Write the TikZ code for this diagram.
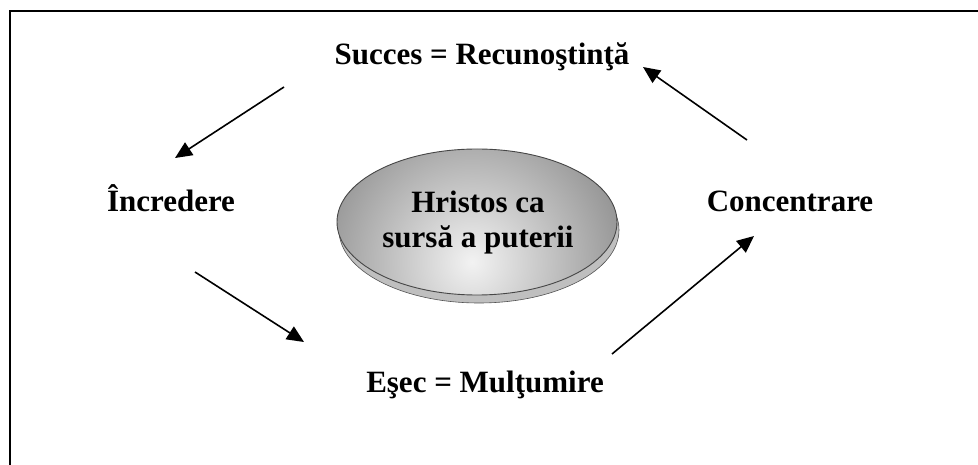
\documentclass[tikz,border=0pt]{standalone}
\usepackage{fontspec}
\setmainfont{Liberation Serif}
\usetikzlibrary{arrows.meta,shapes.geometric,shadings}
\begin{document}
\begin{tikzpicture}[x=1pt,y=-1pt,
  lbl/.style={font=\fontsize{31}{35}\selectfont\bfseries, inner sep=0pt, anchor=base},
  arr/.style={line width=1.6pt, -{Triangle[length=17pt,width=15pt]}}]
\useasboundingbox (0,0) rectangle (978,465);
% frame (left and top edges)
\draw[line width=1.6pt] (10,470) -- (10,11) -- (985,11);
% ellipse shadow/extrusion
\fill[gray!50] (479,230) ellipse [x radius=140, y radius=73];
\draw[gray!65!black, line width=0.6pt] (479,230) ellipse [x radius=140, y radius=73];
% main ellipse
\begin{scope}
  \clip (477,222) ellipse [x radius=140, y radius=73];
  \shade[inner color=gray!10, outer color=gray!100, shading=radial]
    (472,262) circle [radius=190];
\end{scope}
\draw[gray!55!black, line width=0.9pt] (477,222) ellipse [x radius=140, y radius=73];
\node[font=\fontsize{31}{35}\selectfont\bfseries, align=center, inner sep=0pt] (center) at (478,223) {Hristos ca\\sursă a puterii};
% labels
\node[lbl] (top) at (482,65) {Succes = Recunoştinţă};
\node[lbl] (left) at (171,212) {Încredere};
\node[lbl] (right) at (790,212) {Concentrare};
\node[lbl] (bottom) at (485,392) {Eşec = Mulţumire};
% arrow ends
\coordinate (a1s) at (284,87);  \coordinate (a1e) at (175,158);
\coordinate (a2s) at (195,272); \coordinate (a2e) at (304,342);
\coordinate (a3s) at (612,354); \coordinate (a3e) at (754,236);
\coordinate (a4s) at (747,140); \coordinate (a4e) at (643,67);
\draw[arr] (a1s) -- (a1e);
\draw[arr] (a2s) -- (a2e);
\draw[arr] (a3s) -- (a3e);
\draw[arr] (a4s) -- (a4e);
\end{tikzpicture}
\end{document}
